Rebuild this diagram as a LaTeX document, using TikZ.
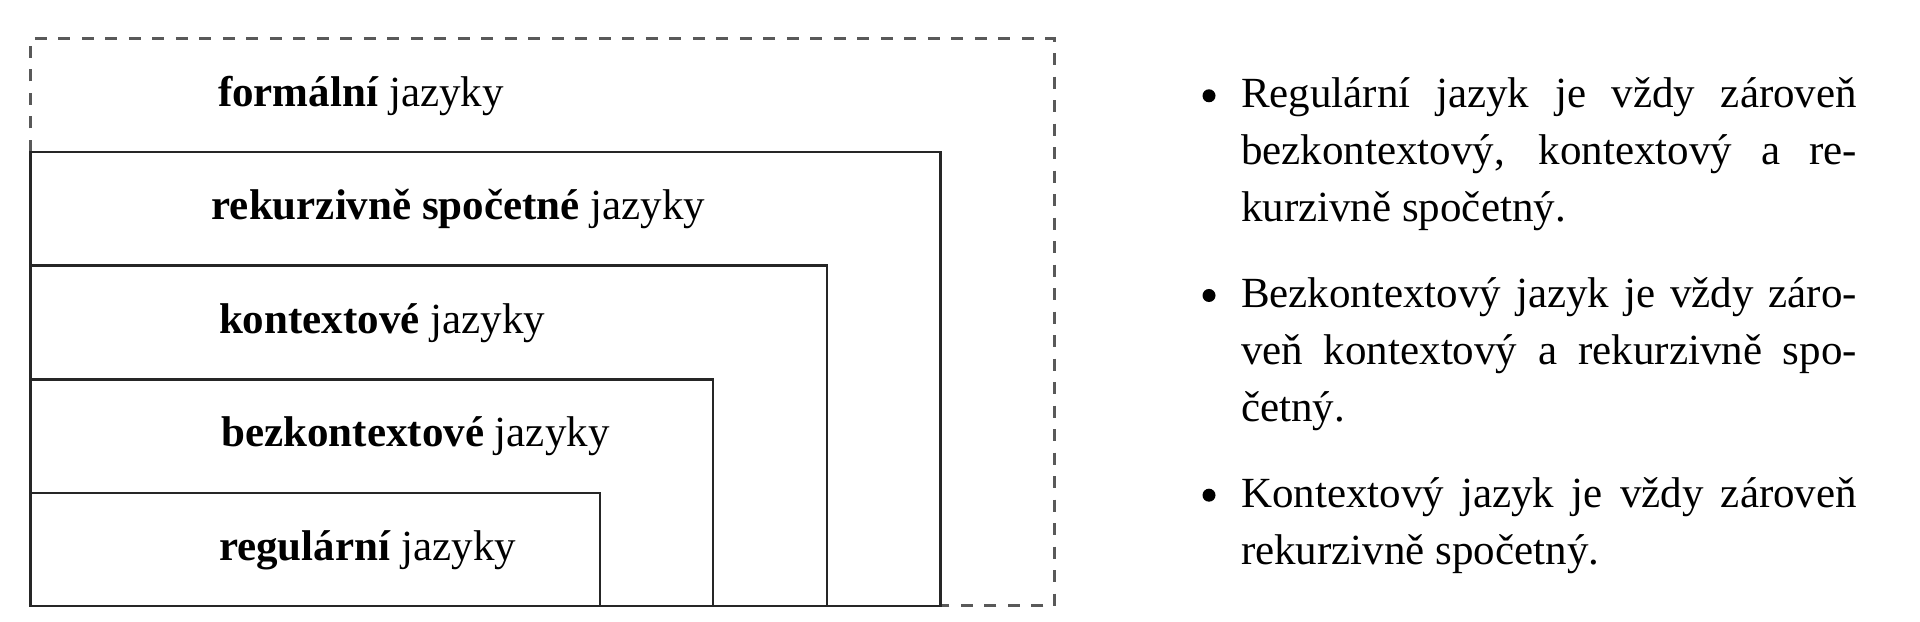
\documentclass[tikz,border=0pt]{standalone}
\usepackage{fontspec}
\setmainfont{Liberation Serif}
\begin{document}
\begin{tikzpicture}[x=0.2pt,y=-0.2pt,
  box/.style={draw=black!85, line width=0.55pt},
  outer/.style={draw=black!65, line width=0.6pt, dash pattern=on 2.4pt off 2.3pt},
  lbl/.style={anchor=base west, inner sep=0pt, font=\fontsize{8.6}{11.4}\selectfont},
  ln/.style={anchor=base west, inner sep=0pt, font=\fontsize{8.6}{11.4}\selectfont},
  bul/.style={circle, fill=black, inner sep=0pt, minimum size=2.6pt}]
\useasboundingbox (0,0) rectangle (1920,622);
% nested boxes
\draw[outer] (30.6,152) -- (30.6,38.8) -- (1054.5,38.8) -- (1054.5,606) -- (940.5,606);
\draw[box] (30.6,152) rectangle (940.5,606);
\draw[box] (30.6,265.5) -- (827,265.5) -- (827,606);
\draw[box] (30.6,379.5) -- (713,379.5) -- (713,606);
\draw[box] (30.6,493) -- (600,493) -- (600,606);
% labels
\node[lbl] (fj) at (217,106.5) {\textbf{formální} jazyky};
\node[lbl] (rj) at (210.6,220) {\textbf{rekurzivně spočetné} jazyky};
\node[lbl] (kj) at (218,333.5) {\textbf{kontextové} jazyky};
\node[lbl] (bj) at (220.4,447) {\textbf{bezkontextové} jazyky};
\node[lbl] (gj) at (218,560.5) {\textbf{regulární} jazyky};
% bullet list
\node[bul] (b1) at (1209,95.8) {};
\node[ln] (l1a) at (1240,107.8) {\makebox[123.2pt][s]{Regulární jazyk je vždy zároveň}};
\node[ln] (l1b) at (1240,164.8) {\makebox[123.2pt][s]{bezkontextový, kontextový a re-}};
\node[ln] (l1c) at (1240,221.8) {kurzivně spočetný.};
\node[bul] (b2) at (1209,295.5) {};
\node[ln] (l2a) at (1240,307.5) {\makebox[123.2pt][s]{Bezkontextový jazyk je vždy záro-}};
\node[ln] (l2b) at (1240,364.5) {\makebox[123.2pt][s]{veň kontextový a rekurzivně spo-}};
\node[ln] (l2c) at (1240,421.5) {četný.};
\node[bul] (b3) at (1209,495.2) {};
\node[ln] (l3a) at (1240,507.2) {\makebox[123.2pt][s]{Kontextový jazyk je vždy zároveň}};
\node[ln] (l3b) at (1240,564.2) {rekurzivně spočetný.};
\end{tikzpicture}
\end{document}
